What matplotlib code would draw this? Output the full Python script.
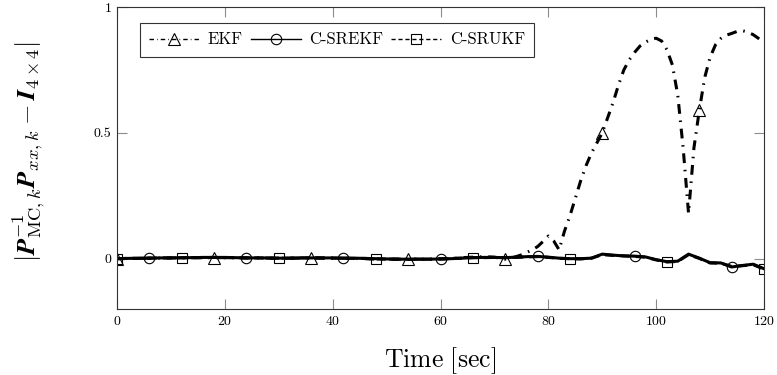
import matplotlib
matplotlib.use("Agg")
import matplotlib.pyplot as plt

plt.rcParams['font.family'] = 'serif'
plt.rcParams['font.serif'] = ['cmr10', 'DejaVu Serif']
plt.rcParams['mathtext.fontset'] = 'cm'
plt.rcParams['axes.formatter.use_mathtext'] = True

# EKF: coarse samples first, then 1 s around the divergence
t_ekf = list(range(0, 73, 2)) + list(range(73, 121))
ekf = [0.000, 0.001, 0.001, 0.002, 0.002, 0.003, 0.003, 0.004, 0.004, 0.004,   # 0-18
       0.004, 0.003, 0.003, 0.003, 0.002, 0.002, 0.002, 0.002, 0.003, 0.003,   # 20-38
       0.002, 0.002, 0.001, 0.000, -0.002, -0.002, -0.002, -0.001, -0.002, -0.002,  # 40-58
       -0.001, 0.000, 0.004, 0.006, 0.008, 0.006, -0.002,                      # 60-72
       0.002, 0.008, 0.015, 0.025, 0.035, 0.048, 0.068, 0.090, 0.070, 0.035,   # 73-82
       0.110, 0.170, 0.240, 0.310, 0.370, 0.420, 0.460, 0.500, 0.560, 0.620,   # 83-92
       0.690, 0.750, 0.790, 0.820, 0.845, 0.860, 0.872, 0.876, 0.865, 0.830,   # 93-102
       0.770, 0.650, 0.440, 0.180, 0.440, 0.590, 0.720, 0.800, 0.850, 0.875,   # 103-112
       0.888, 0.895, 0.903, 0.906, 0.900, 0.890, 0.875, 0.860]                 # 113-120

t2 = list(range(0, 121, 2))
srekf = [0.000, 0.001, 0.002, 0.002, 0.003, 0.003, 0.004, 0.004, 0.005, 0.005,
         0.005, 0.004, 0.003, 0.003, 0.003, 0.002, 0.002, 0.003, 0.003, 0.003,
         0.003, 0.002, 0.002, 0.001, 0.000, -0.001, -0.002, -0.002, -0.002, -0.002,
         -0.001, 0.000, 0.002, 0.004, 0.005, 0.005, 0.004, 0.006, 0.008, 0.009,
         0.006, 0.002, 0.000, 0.000, 0.002, 0.018, 0.014, 0.011, 0.010, 0.007,
         -0.004, -0.012, -0.010, 0.018, 0.002, -0.016, -0.017, -0.033, -0.027, -0.022,
         -0.040]
srukf = [0.000, 0.001, 0.001, 0.002, 0.003, 0.003, 0.003, 0.004, 0.004, 0.005,
         0.004, 0.004, 0.003, 0.003, 0.002, 0.002, 0.002, 0.003, 0.003, 0.002,
         0.002, 0.002, 0.001, 0.001, -0.001, -0.002, -0.002, -0.003, -0.002, -0.002,
         -0.001, 0.001, 0.002, 0.004, 0.004, 0.005, 0.004, 0.005, 0.007, 0.008,
         0.005, 0.001, 0.000, -0.001, 0.002, 0.016, 0.013, 0.011, 0.009, 0.006,
         -0.005, -0.013, -0.011, 0.016, 0.001, -0.017, -0.018, -0.031, -0.028, -0.024,
         -0.042]

labels = ['EKF', 'C-SREKF', 'C-SRUKF']
xticks = [0, 20, 40, 60, 80, 100, 120]
yticks = [0, 0.5, 1]

fig = plt.figure(figsize=(7.77, 3.75), dpi=100)
ax = fig.add_axes([0.1506, 0.176, 0.8327, 0.8053])

mk_ekf = [i for i, t in enumerate(t_ekf) if t % 18 == 0]
mk_srekf = [i for i, t in enumerate(t2) if t % 18 == 6]
mk_srukf = [i for i, t in enumerate(t2) if t % 18 == 12 or t == 0]

ax.plot(t_ekf, ekf, color='k', lw=2.2, ls=(0, (3.2, 2.2, 0.5, 2.2)),
        marker='^', ms=8.5, mfc='none', mec='k', mew=0.8, markevery=mk_ekf, label=labels[0])
ax.plot(t2, srekf, color='k', lw=2.2, ls='-',
        marker='o', ms=7.5, mfc='none', mec='k', mew=0.8, markevery=mk_srekf, label=labels[1])
ax.plot(t2, srukf, color='k', lw=2.2, ls=(0, (3, 2)),
        marker='s', ms=7, mfc='none', mec='k', mew=0.8, markevery=mk_srukf, label=labels[2])

ax.set_xlim(0, 120)
ax.set_ylim(-0.2, 1)
ax.set_xticks(xticks)
ax.set_yticks(yticks)
ax.set_yticklabels(['0', '0.5', '1'])
ax.tick_params(direction='in', length=7, width=0.8, color='0.55', labelsize=10,
               top=True, right=True, pad=4)
for s in ax.spines.values():
    s.set_linewidth(0.8)
    s.set_color('0.2')

ax.set_xlabel(r'$\mathrm{Time\ [sec]}$', fontsize=18.5)
ax.xaxis.set_label_coords(0.5, -0.12)
ax.set_ylabel(r'$|\mathbfit{P}^{-1}_{\mathrm{MC},k}\mathbfit{P}_{xx,k}-\mathbfit{I}_{4\times 4}|$',
              fontsize=19)
ax.yaxis.set_label_coords(-0.108, 0.52)

leg = ax.legend(loc='upper left', bbox_to_anchor=(0.022, 0.975), ncol=3, fontsize=12,
                frameon=True, fancybox=False, edgecolor='k', handlelength=3.0,
                columnspacing=0.5, handletextpad=0.5, borderpad=0.55)
leg.get_frame().set_linewidth(0.8)
for line in leg.get_lines():
    line.set_linewidth(1.0)

fig.savefig('out.png', dpi=100)
